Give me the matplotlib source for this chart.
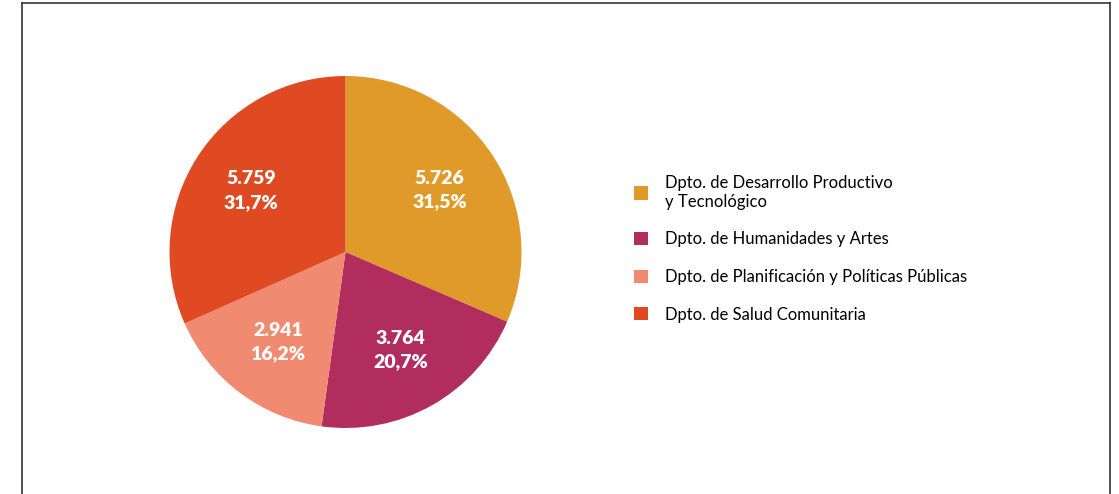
import matplotlib.pyplot as plt
from matplotlib.lines import Line2D

departamentos = ['Dpto. de Desarrollo Productivo\ny Tecnológico',
                 'Dpto. de Humanidades y Artes',
                 'Dpto. de Planificación y Políticas Públicas',
                 'Dpto. de Salud Comunitaria']
valores = [5726, 3764, 2941, 5759]
colores = ['#E09A2A', '#B12D5E', '#F08A70', '#E04A23']

plt.rcParams['font.family'] = ['Lato', 'DejaVu Sans']

W, H = 1119, 494
fig = plt.figure(figsize=(W / 100, H / 100), dpi=100)

# marco
fc = '#333333'
fig.add_artist(Line2D([21.5 / W, 21.5 / W], [0, 1 - 3.5 / H], transform=fig.transFigure, color=fc, lw=1.2))
fig.add_artist(Line2D([21.5 / W, 1110 / W], [1 - 3.5 / H, 1 - 3.5 / H], transform=fig.transFigure, color=fc, lw=1.2))
fig.add_artist(Line2D([1110 / W, 1110 / W], [0, 1 - 3.5 / H], transform=fig.transFigure, color=fc, lw=1.2))

r = 176
cx, cy = 345.5, H - 252
ax = fig.add_axes([(cx - r) / W, (cy - r) / H, 2 * r / W, 2 * r / H])
total = sum(valores)


def fmt(p):
    v = round(p * total / 100)
    return f'{v:,}'.replace(',', '.') + '\n' + f'{p:.1f}%'.replace('.', ',')


wedges, texts, autotexts = ax.pie(valores, colors=colores, startangle=90, counterclock=False,
                                  autopct=fmt, pctdistance=0.64, radius=1,
                                  textprops=dict(color='white', fontsize=14, fontweight='heavy',
                                                 linespacing=1.45))
ax.set_xlim(-1, 1)
ax.set_ylim(-1, 1)
ax.set_aspect('equal')

fig.legend(wedges, departamentos, loc='upper left', bbox_to_anchor=(634 / W, 1 - 175 / H),
           frameon=False, fontsize=12, handlelength=0.85, handleheight=0.85,
           handletextpad=1.0, labelspacing=1.3, borderpad=0, borderaxespad=0)

fig.savefig('out.png', dpi=100)
